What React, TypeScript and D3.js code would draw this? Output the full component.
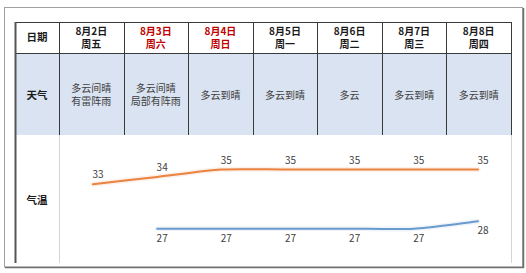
import React from "react";
import * as d3 from "d3";

const dates = ["8月2日", "8月3日", "8月4日", "8月5日", "8月6日", "8月7日", "8月8日"];
const weekdays = ["周五", "周六", "周日", "周一", "周二", "周三", "周四"];
const holiday = [false, true, true, false, false, false, false];
const weather = [["多云间晴", "有雷阵雨"], ["多云间晴", "局部有阵雨"], ["多云到晴"], ["多云到晴"], ["多云"], ["多云到晴"], ["多云到晴"]];
const highs: (number | null)[] = [33, 34, 35, 35, 35, 35, 35];
const lows: (number | null)[] = [null, 27, 27, 27, 27, 27, 28];

const W = 526, H = 273;
const FONT = '"Noto Sans CJK SC", "Noto Sans", sans-serif';

export default function App() {
  const tableL = 15, labelR = 59, tableR = 511;
  const yTop = 22, yHead = 53, yWeather = 135, yBottom = 263;

  const band = d3.scaleBand<string>().domain(dates).range([labelR, tableR]);
  const px = d3.scalePoint<string>().domain(dates).range([93, 478]);
  const y = d3.scaleLinear().domain([20, 40]).range([280.5, 132.5]);

  const line = d3.line<[string, number | null]>()
    .defined(d => d[1] != null)
    .x(d => px(d[0])!)
    .y(d => y(d[1] as number))
    .curve(d3.curveCardinal.tension(0.3));

  const hiData: [string, number | null][] = dates.map((d, i) => [d, highs[i]]);
  const loData: [string, number | null][] = dates.map((d, i) => [d, lows[i]]);

  const orange = "#e9833f";
  const blue = "#6a9bcf";
  const dark = "#3a3a3a";

  return (
    <svg width={W} height={H} style={{ position: "absolute", left: 0, top: 0 }} fontFamily={FONT}>
      <rect x={0} y={0} width={W} height={H} fill="#fff" />
      {/* outer frame */}
      <rect x={4.5} y={7.5} width={518} height={259.5} fill="#fff" stroke="#a0a0a0" strokeWidth={1} />
      <line x1={523.5} y1={8} x2={523.5} y2={268} stroke="#707070" strokeWidth={1.5} />
      <line x1={5} y1={267.5} x2={524} y2={267.5} stroke="#707070" strokeWidth={1.5} />

      {/* weather row background */}
      <rect x={tableL} y={yHead} width={tableR - tableL} height={yWeather - yHead} fill="#dae3f1" />

      {/* horizontal lines */}
      <line x1={tableL} x2={tableR} y1={yTop + 0.5} y2={yTop + 0.5} stroke={dark} strokeWidth={1} />
      <line x1={tableL} x2={tableR} y1={yHead + 0.5} y2={yHead + 0.5} stroke={dark} strokeWidth={1} />

      {/* vertical lines in first two rows */}
      {dates.map((d, i) => (
        <line key={"v" + i} x1={Math.round(band(d)!) + 0.5} x2={Math.round(band(d)!) + 0.5} y1={yTop} y2={yWeather}
          stroke={dark} strokeWidth={1} />
      ))}
      <line x1={tableR + 0.5} x2={tableR + 0.5} y1={yTop} y2={yWeather} stroke={dark} strokeWidth={1} />
      {/* third row borders */}
      <line x1={labelR + 0.5} x2={labelR + 0.5} y1={yWeather} y2={yBottom} stroke="#d4d4d4" strokeWidth={1} />
      <line x1={tableR + 0.5} x2={tableR + 0.5} y1={yWeather} y2={yBottom} stroke="#d4d4d4" strokeWidth={1} />
      <line x1={tableL + 0.5} x2={tableL + 0.5} y1={yTop} y2={yBottom} stroke="#555" strokeWidth={2} />

      {/* row labels */}
      <g fontWeight="bold" fontSize={10.5} fill="#1a1a1a" textAnchor="middle">
        <text x={37} y={41}>日期</text>
        <text x={37} y={99}>天气</text>
        <text x={37} y={204}>气温</text>
      </g>

      {/* header */}
      {dates.map((d, i) => {
        const cx = band(d)! + band.bandwidth() / 2;
        const c = holiday[i] ? "#c00000" : "#1a1a1a";
        return (
          <g key={"h" + i} fontWeight="bold" fontSize={10} fill={c} textAnchor="middle">
            <text x={cx} y={34.5}>{d}</text>
            <text x={cx} y={48}>{weekdays[i]}</text>
          </g>
        );
      })}

      {/* weather */}
      {dates.map((d, i) => {
        const cx = band(d)! + band.bandwidth() / 2;
        const lines = weather[i];
        const base = lines.length === 1 ? [98.5] : [91.5, 105];
        return (
          <g key={"w" + i} fontSize={10} fill="#404040" textAnchor="middle">
            {lines.map((t, j) => <text key={j} x={cx} y={base[j]}>{t}</text>)}
          </g>
        );
      })}

      {/* temperature lines */}
      <path d={line(hiData)!} fill="none" stroke={orange} strokeOpacity={0.12} strokeWidth={5} strokeLinecap="round" />
      <path d={line(hiData)!} fill="none" stroke={orange} strokeWidth={2} strokeLinecap="round" />
      <path d={line(loData)!} fill="none" stroke={blue} strokeOpacity={0.1} strokeWidth={5} strokeLinecap="round" />
      <path d={line(loData)!} fill="none" stroke={blue} strokeWidth={2} strokeLinecap="round" />

      <g fontSize={10} fill="#404040" textAnchor="middle">
        {hiData.filter(d => d[1] != null).map((d, i) => (
          <text key={"hl" + i} x={px(d[0])! + 5} y={y(d[1] as number) - 6}>{d[1]}</text>
        ))}
        {loData.filter(d => d[1] != null).map((d, i) => (
          <text key={"ll" + i} x={px(d[0])! + 5} y={y(d[1] as number) + 13}>{d[1]}</text>
        ))}
      </g>
    </svg>
  );
}
